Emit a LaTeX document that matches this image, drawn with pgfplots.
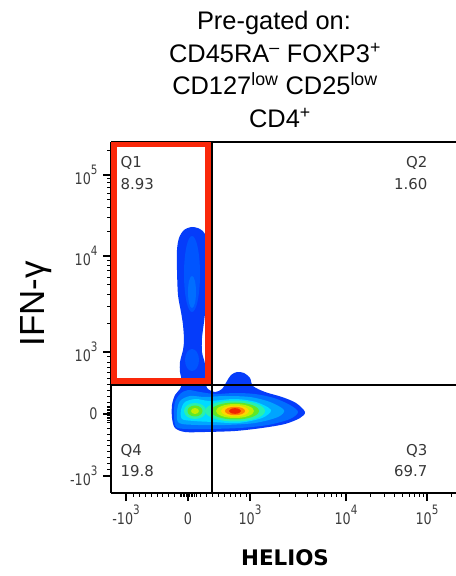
\documentclass[border=0pt]{standalone}
\usepackage{fontspec}
\setmainfont{Liberation Sans}
\newfontfamily\dejavu{DejaVu Sans}
\newfontfamily\tickfnt[FakeStretch=0.8]{DejaVu Sans}
\usepackage{pgfplots}
\pgfplotsset{compat=1.18}

\definecolor{gatered}{RGB}{250,40,10}
\definecolor{tickgray}{RGB}{60,60,60}
\definecolor{qgray}{RGB}{55,55,55}
% pseudocolour density levels, low to high
\definecolor{c1}{RGB}{5,60,250}
\definecolor{c1b}{RGB}{0,85,255}
\definecolor{c2}{RGB}{0,110,255}
\definecolor{c3}{RGB}{0,165,255}
\definecolor{c4}{RGB}{0,220,255}
\definecolor{c5}{RGB}{40,240,175}
\definecolor{c6}{RGB}{95,232,40}
\definecolor{c7}{RGB}{195,238,0}
\definecolor{c8}{RGB}{255,215,0}
\definecolor{c9}{RGB}{255,130,0}
\definecolor{c10}{RGB}{240,35,0}

% tick label text: "10" with a raised exponent, set in text mode
\newcommand\tk[2]{\mbox{\tickfnt\fontsize{16}{16}\selectfont #1\raisebox{9.5bp}{\fontsize{13}{13}\selectfont#2}}}
\newcommand\qfont{\dejavu\fontsize{15}{15}\selectfont}
\newcommand\ttl{\fontsize{25.5}{25.5}\selectfont}

\begin{document}
\begin{tikzpicture}[x=1bp,y=1bp]
\useasboundingbox (0,0) rectangle (456,576);

\begin{axis}[
  at={(111bp,83bp)}, anchor=south west,
  x=1bp, y=1bp,
  xmin=-77, xmax=268, ymin=-79, ymax=272,
  axis x line*=bottom, axis y line*=left,
  axis line style={-, line width=1.1bp, black},
  clip=false,
  tick align=outside,
  major tick length=8bp, minor tick length=4bp,
  major tick style={line width=1.6bp, black},
  minor tick style={line width=0.8bp, black},
  xtick={-62,0,62,158,239},
  ytick={-62,0,62,158,239},
  xticklabels={{\tk{-10}{3}},{\tk{0}{}},{\tk{10}{3}},{\tk{10}{4}},{\tk{10}{5}}},
  yticklabels={{\tk{-10}{3}},{\tk{0}{}},{\tk{10}{3}},{\tk{10}{4}},{\tk{10}{5}}},
  minor xtick={-55,-49,-43,-37,-31,-26,-20,-14,-8,-6.4,-4.8,-3.2,-1.6,1.6,3.2,4.8,6.4,8,
    12,18,24,30,36,42,47,52,58,
    90.9,107.8,119.8,129.1,136.7,143.1,148.7,153.6,
    182.4,196.6,206.8,214.6,221.0,226.5,231.2,235.3,263.4},
  minor ytick={-55,-49,-43,-37,-31,-26,-20,-14,-8,-6.4,-4.8,-3.2,-1.6,1.6,3.2,4.8,6.4,8,
    12,18,24,30,36,42,47,52,58,
    90.9,107.8,119.8,129.1,136.7,143.1,148.7,153.6,
    182.4,196.6,206.8,214.6,221.0,226.5,231.2,235.3,263.4},
  ticklabel style={text=tickgray},
  xticklabel style={anchor=base, yshift=-23bp},
  yticklabel style={anchor=east, xshift=-2bp},
]

% outer population boundary
\addplot[fill=c1, draw=none, smooth cycle, tension=0.5] coordinates {
  (-13,-14) (-16,-4) (-16,9) (-13,19) (-8,25) (-6,32) (-8,42) (-8,52) (-5,64)
  (-4,74) (-5,89) (-7,102) (-10,119) (-11,144) (-11,164) (-9,176) (-4,184)
  (4,187) (12,185) (17,180) (19,169) (19,124) (18,109) (16,92) (14,76) (14,62)
  (17,50) (18,36) (19,26) (27,22) (34,25) (39,33) (43,39) (49,42) (56,41)
  (62,36) (65,28) (77,22) (94,17) (108,11) (117,2) (112,-4) (97,-10) (74,-14)
  (47,-17) (17,-18) (-3,-18)};

% IFN-gamma positive column
\addplot[fill=c1b, draw=none, smooth cycle, tension=1] coordinates {
  (12,140) (4,178) (-4,140) (4,102)};
\addplot[fill=c1b, draw=none, smooth cycle, tension=1] coordinates {
  (11,54) (4,65) (-3,54) (4,43)};
\addplot[fill=c2, draw=none, smooth cycle, tension=1] coordinates {
  (8,122) (4,138) (0,122) (4,106)};

% main population
\addplot[fill=c2, draw=none, smooth cycle, tension=0.5] coordinates {
  (-12,-13) (-14,0) (-13,12) (-8,20) (0,24) (12,22) (27,20) (47,21) (67,20)
  (86,16) (102,9) (110,2) (102,-5) (80,-11) (52,-14) (22,-15) (0,-15)};
\addplot[fill=c3, draw=none, smooth cycle, tension=0.5] coordinates {
  (-9,-9) (-11,2) (-8,13) (2,18) (17,17) (37,18) (62,17) (82,12) (96,4)
  (90,-3) (67,-9) (37,-11) (10,-11)};
\addplot[fill=c4, draw=none, smooth cycle, tension=0.5] coordinates {
  (-6,-5) (-7,4) (-3,12) (8,15) (22,13) (47,15) (68,12) (83,4) (74,-4)
  (50,-9) (25,-8) (6,-7)};

% left (HELIOS negative) peak
\addplot[fill=c5, draw=none, smooth cycle, tension=1] coordinates {(18,3) (7,11) (-4,3) (7,-5)};
\addplot[fill=c6, draw=none, smooth cycle, tension=1] coordinates {(14.5,3) (7,8.5) (-0.5,3) (7,-2.5)};
\addplot[fill=c7, draw=none, smooth cycle, tension=1] coordinates {(11,3) (7,6) (3,3) (7,0)};

% right (HELIOS positive) peak
\addplot[fill=c5, draw=none, smooth cycle, tension=1] coordinates {(77,3) (47,13.5) (17,3) (47,-7.5)};
\addplot[fill=c6, draw=none, smooth cycle, tension=1] coordinates {(71,3) (47,11.5) (23,3) (47,-5.5)};
\addplot[fill=c7, draw=none, smooth cycle, tension=1] coordinates {(66,3) (47,10) (28,3) (47,-4)};
\addplot[fill=c8, draw=none, smooth cycle, tension=1] coordinates {(61,3) (47,8.5) (33,3) (47,-2.5)};
\addplot[fill=c9, draw=none, smooth cycle, tension=1] coordinates {(57,3) (47,7.2) (37,3) (47,-1.2)};
\addplot[fill=c10, draw=none, smooth cycle, tension=1] coordinates {(53,3) (47,5.8) (41,3) (47,0.2)};

% quadrant gates
\addplot[black, line width=1.3bp] coordinates {(-77,272) (268,272)};
\addplot[black, line width=2bp] coordinates {(23.5,-79) (23.5,272)};
\addplot[black, line width=2bp] coordinates {(-77,29) (268,29)};

% Q1 gate
\addplot[draw=gatered, line width=5.5bp, line join=miter] coordinates {
  (-74,33) (-74,269.5) (20,269.5) (20,33)} -- cycle;
\end{axis}

% quadrant statistics
\node[anchor=base west, font=\qfont, text=qgray] at (117,408) {Q1};
\node[anchor=base west, font=\qfont, text=qgray] at (117,386) {8.93};
\node[anchor=base east, font=\qfont, text=qgray] at (431,408) {Q2};
\node[anchor=base east, font=\qfont, text=qgray] at (431,386) {1.60};
\node[anchor=base east, font=\qfont, text=qgray] at (431,120) {Q3};
\node[anchor=base east, font=\qfont, text=qgray] at (431,99) {69.7};
\node[anchor=base west, font=\qfont, text=qgray] at (117,120) {Q4};
\node[anchor=base west, font=\qfont, text=qgray] at (117,99) {19.8};

% title
\node[anchor=base, font=\ttl] at (274,546) {Pre-gated on:};
\node[anchor=base, font=\ttl] at (275,513) {CD45RA\textsuperscript{–} FOXP3\textsuperscript{+}};
\node[anchor=base, font=\ttl] at (275,481) {CD127\textsuperscript{low} CD25\textsuperscript{low}};
\node[anchor=base, font=\ttl] at (280,448) {CD4\textsuperscript{+}};

% axis titles
\node[rotate=90, anchor=base, font=\fontsize{35}{35}\selectfont] at (44,272) {IFN-γ};
\node[anchor=base, font=\dejavu\bfseries\fontsize{21.5}{21.5}\selectfont] at (285,10) {HELIOS};
\end{tikzpicture}
\end{document}
